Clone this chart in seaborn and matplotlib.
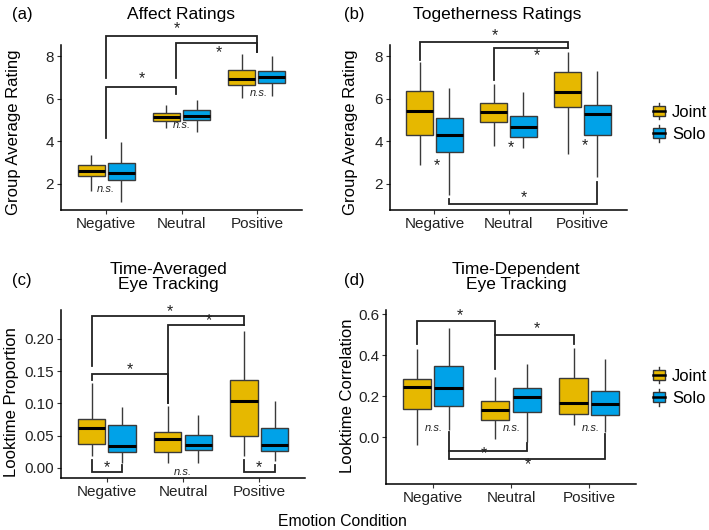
import pandas as pd
import matplotlib.pyplot as plt
import seaborn as sns
from matplotlib.legend_handler import HandlerBase
from matplotlib.patches import Patch, Rectangle
from matplotlib.lines import Line2D

# Categorias y grupos
conditions = ["Negative", "Neutral", "Positive"]
groups = ["Joint", "Solo"]
colors = {"Joint": "#E6B800", "Solo": "#00A2E8"}

# Resumen de cada caja: bigote inferior, Q1, mediana, Q3, bigote superior
affect_joint = [[1.69, 2.36, 2.62, 2.88, 3.38], [4.61, 4.97, 5.13, 5.31, 5.70], [6.02, 6.64, 6.94, 7.34, 8.09]]
affect_solo = [[1.14, 2.17, 2.50, 2.97, 3.95], [4.45, 5.00, 5.20, 5.47, 5.94], [6.13, 6.75, 7.02, 7.30, 8.00]]
together_joint = [[2.89, 4.30, 5.42, 6.38, 7.73], [3.78, 4.91, 5.38, 5.78, 6.69], [3.41, 5.63, 6.31, 7.25, 8.20]]
together_solo = [[1.48, 3.52, 4.30, 5.08, 6.48], [3.69, 4.19, 4.69, 5.19, 6.31], [2.34, 4.28, 5.27, 5.69, 7.31]]
look_joint = [[0.018, 0.037, 0.062, 0.075, 0.132], [0.008, 0.024, 0.045, 0.056, 0.096], [0.018, 0.049, 0.104, 0.136, 0.212]]
look_solo = [[0.008, 0.025, 0.034, 0.067, 0.094], [0.008, 0.028, 0.036, 0.051, 0.082], [0.010, 0.026, 0.036, 0.062, 0.104]]
corr_joint = [[-0.037, 0.137, 0.247, 0.282, 0.432], [-0.011, 0.082, 0.134, 0.176, 0.294], [0.058, 0.115, 0.166, 0.287, 0.435]]
corr_solo = [[0.035, 0.153, 0.239, 0.348, 0.535], [-0.024, 0.123, 0.195, 0.240, 0.358], [0.024, 0.110, 0.161, 0.226, 0.382]]

plt.rcParams['font.family'] = ['Liberation Sans', 'DejaVu Sans']

W, H = 709, 530
fig = plt.figure(figsize=(W / 100, H / 100), dpi=100)


def px(x, y):
    return x / W, 1 - y / H


def make_ax(l, t, r, b):
    return fig.add_axes([l / W, 1 - b / H, (r - l) / W, (b - t) / H])


def long_df(joint, solo):
    rows = []
    for i, c in enumerate(conditions):
        for g, summ in zip(groups, (joint, solo)):
            for v in summ[i]:
                rows.append((c, g, v))
    return pd.DataFrame(rows, columns=["cond", "group", "value"])


def draw_boxes(ax, joint, solo, ylim, yticks, yticklabels):
    df = long_df(joint, solo)
    sns.boxplot(data=df, x="cond", y="value", hue="group", order=conditions,
                hue_order=groups, palette=colors, saturation=1, width=0.8, gap=0.1,
                whis=(0, 100), showcaps=False, linewidth=1.0, linecolor="#3a3a3a",
                medianprops=dict(color="black", linewidth=2.2),
                legend=False, ax=ax)
    ax.set_xlim(-0.6, 2.6)
    ax.set_ylim(*ylim)
    ax.set_yticks(yticks)
    ax.set_yticklabels(yticklabels)
    ax.set_xlabel("")
    ax.set_ylabel("")
    for s in ["top", "right"]:
        ax.spines[s].set_visible(False)
    for s in ["left", "bottom"]:
        ax.spines[s].set_linewidth(1.1)
        ax.spines[s].set_color("black")
    ax.tick_params(length=3, width=0.8, color="#333333", labelsize=11,
                   labelcolor="#222222", pad=2)


def brackets(ax, specs):
    for x1, x2, yb, y1, y2 in specs:
        ax.plot([x1, x1, x2, x2], [y1, yb, yb, y2], color="#222222",
                lw=1.3, clip_on=False, solid_joinstyle="miter")


def stars(ax, pts, txt="*", italic=False):
    for x, y in pts:
        ax.text(x, y, txt, ha="center", va="center", clip_on=False,
                fontsize=8 if italic else 11.5, style="italic" if italic else "normal",
                color="#222222")


class BoxKey(HandlerBase):
    def create_artists(self, legend, orig_handle, xdescent, ydescent,
                       width, height, fontsize, trans):
        fc = orig_handle.get_facecolor()
        cx = width / 2 - xdescent
        bw = width * 0.8
        bh = height * 0.75
        by = -ydescent + (height - bh) / 2
        whisk = Line2D([cx, cx], [-ydescent - 1, -ydescent + height + 1],
                       color="#333333", lw=1, transform=trans)
        box = Rectangle((cx - bw / 2, by), bw, bh, facecolor=fc,
                        edgecolor="#333333", lw=1, transform=trans)
        med = Line2D([cx - bw / 2, cx + bw / 2], [by + bh / 2] * 2,
                     color="black", lw=1.8, transform=trans)
        return [whisk, box, med]


def legend_at(x, y):
    handles = [Patch(facecolor=colors[g]) for g in groups]
    fig.legend(handles, groups, handler_map={Patch: BoxKey()},
               loc="upper left", bbox_to_anchor=px(x, y), frameon=False,
               fontsize=12, handlelength=0.85, handleheight=0.9,
               handletextpad=0.35, labelspacing=0.4, borderaxespad=0,
               borderpad=0)


# (a) Affect Ratings
ax_a = make_ax(61, 45, 302, 210)
draw_boxes(ax_a, affect_joint, affect_solo, (0.78, 8.52), [2, 4, 6, 8], ["2", "4", "6", "8"])
brackets(ax_a, [(0, 0.93, 6.56, 4.14, 6.22), (0, 2, 8.94, 6.95, 8.2), (0.93, 2, 8.6, 6.95, 8.2)])
stars(ax_a, [(0.47, 6.95), (0.94, 9.3), (1.49, 8.15)])
stars(ax_a, [(0, 1.75), (1, 4.75), (2.03, 6.25)], "n.s.", italic=True)

# (b) Togetherness Ratings
ax_b = make_ax(390, 45, 627, 210)
draw_boxes(ax_b, together_joint, together_solo, (0.78, 8.52), [2, 4, 6, 8], ["2", "4", "6", "8"])
brackets(ax_b, [(-0.2, 1.8, 8.67, 7.8, 8.36), (0.8, 1.8, 8.36, 6.88, 8.36), (0.2, 2.2, 1.06, 1.3, 2.11)])
stars(ax_b, [(0.81, 8.98), (1.38, 8.0), (1.21, 1.38), (0.03, 2.85), (1.03, 3.7), (2.03, 3.8)])

# (c) Time-Averaged Eye Tracking
ax_c = make_ax(61, 310, 305, 478)
draw_boxes(ax_c, look_joint, look_solo, (-0.016, 0.245), [0, 0.05, 0.10, 0.15, 0.20],
           ["0.00", "0.05", "0.10", "0.15", "0.20"])
brackets(ax_c, [(-0.2, 1.8, 0.236, 0.158, 0.222), (0.8, 1.8, 0.222, 0.101, 0.222),
                (-0.2, 0.8, 0.145, 0.137, 0.101), (-0.2, 0.2, -0.007, 0.012, 0.004),
                (1.8, 2.2, -0.007, 0.012, 0.004)])
stars(ax_c, [(0.83, 0.243), (1.34, 0.229), (0.31, 0.153), (0, 0.0), (2, 0.0)])
stars(ax_c, [(1, -0.006)], "n.s.", italic=True)

# (d) Time-Dependent Eye Tracking
ax_d = make_ax(386, 310, 636, 484)
draw_boxes(ax_d, corr_joint, corr_solo, (-0.229, 0.621), [0.0, 0.2, 0.4, 0.6],
           ["0.0", "0.2", "0.4", "0.6"])
brackets(ax_d, [(-0.2, 0.8, 0.565, 0.455, 0.331), (0.8, 1.8, 0.497, 0.497, 0.455),
                (0.2, 1.2, -0.068, 0.024, -0.029), (0.2, 2.2, -0.105, -0.068, 0.013)])
stars(ax_d, [(0.35, 0.594), (1.33, 0.53), (0.65, -0.082), (1.21, -0.135)])
stars(ax_d, [(0.01, 0.044), (1.01, 0.044), (2.02, 0.044)], "n.s.", italic=True)

# Titulos, letras y etiquetas
fs = 12.5
fig.text(*px(181, 14), "Affect Ratings", ha="center", va="center", fontsize=fs)
fig.text(*px(497, 14), "Togetherness Ratings", ha="center", va="center", fontsize=fs)
fig.text(*px(168, 277), "Time-Averaged\nEye Tracking", ha="center", va="center",
         fontsize=fs, linespacing=1.0)
fig.text(*px(516, 277), "Time-Dependent\nEye Tracking", ha="center", va="center",
         fontsize=fs, linespacing=1.0)
for lab, x, y in [("(a)", 22, 15), ("(b)", 354, 15), ("(c)", 22, 280), ("(d)", 354, 280)]:
    fig.text(*px(x, y), lab, ha="center", va="center", fontsize=12)
for lab, x, y in [("Group Average Rating", 14, 132), ("Group Average Rating", 350, 132),
                  ("Looktime Proportion", 12, 402), ("Looktime Correlation", 347, 396)]:
    fig.text(*px(x, y), lab, ha="center", va="center", rotation=90, fontsize=12)
fig.text(*px(342, 521), "Emotion Condition", ha="center", va="center", fontsize=11.3)

legend_at(652, 104)
legend_at(652, 368)

fig.savefig("out.png", dpi=100)
